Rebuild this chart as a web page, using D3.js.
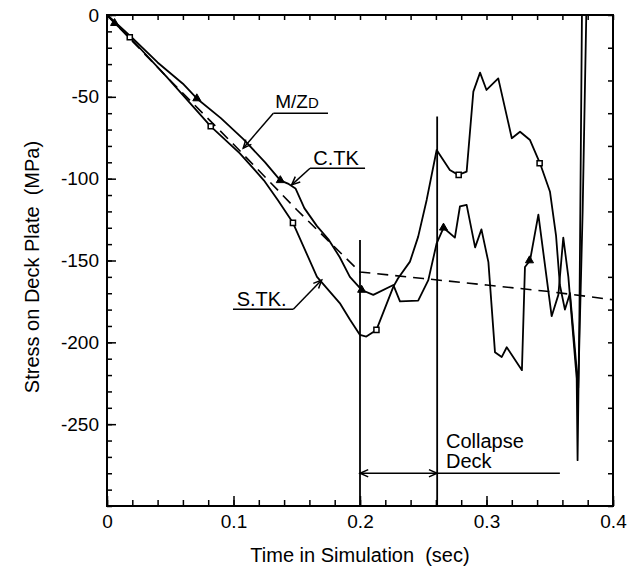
<!DOCTYPE html>
<html>
<head>
<meta charset="utf-8">
<script src="https://cdn.jsdelivr.net/npm/d3@7"></script>
<style>
body { margin: 0; background: #fff; }
svg text { font-family: "Liberation Sans", Arial, Helvetica, sans-serif; fill: #000; }
</style>
</head>
<body>
<svg id="chart" width="629" height="569"></svg>
<script>
// M/Zd estimate (dashed)
var timeMz   = [0, 0.05, 0.1, 0.15, 0.2, 0.25, 0.3, 0.35, 0.4];
var stressMz = [0, -40, -79, -119, -157, -161, -165, -169, -174];

// C.TK (triangle markers)
var timeCtk   = [0, 0.006, 0.02, 0.04, 0.06, 0.071, 0.09, 0.108, 0.125, 0.137, 0.143, 0.149, 0.156, 0.166, 0.175, 0.184, 0.192,
                 0.2013, 0.2105, 0.2264, 0.2316, 0.246, 0.254, 0.2606, 0.266, 0.275, 0.279, 0.2843, 0.291, 0.296, 0.3015,
                 0.3067, 0.312, 0.316, 0.328, 0.3304, 0.3344, 0.341, 0.3515, 0.3568, 0.3607, 0.3647, 0.3713, 0.372, 0.3735, 0.3755];
var stressCtk = [0, -4, -14, -29, -42, -51, -63, -76, -90, -101, -103, -106, -118, -129, -137, -148, -160,
                 -168, -171, -165, -175, -174.5, -162, -139.5, -130, -136, -117, -116, -142, -131, -151,
                 -206, -209, -203, -217, -154, -150, -122, -184, -171, -136, -160, -222, -272, -180, 5];

// S.TK (square markers)
var timeStk   = [0, 0.006, 0.018, 0.047, 0.082, 0.105, 0.124, 0.135, 0.147, 0.166, 0.184, 0.192, 0.2, 0.205, 0.213,
                 0.2264, 0.23, 0.2395, 0.246, 0.2527, 0.2606, 0.271, 0.2777, 0.2843, 0.2896, 0.2949, 0.3, 0.3093, 0.32,
                 0.3265, 0.3344, 0.3423, 0.3502, 0.355, 0.358, 0.362, 0.366, 0.37, 0.3725, 0.376, 0.379];
var stressStk = [0, -5, -13.6, -37.7, -68, -84.5, -101, -113, -127, -160, -176, -186, -195.5, -196.5, -192.4,
                 -166, -161, -150.7, -135.4, -113, -82.5, -94.7, -97.7, -95.7, -46.8, -35.2, -45.8, -38.7, -75.3,
                 -71.3, -76.4, -90.6, -108, -135, -165, -180, -170, -205, -228, -120, 5];

var markTimeCtk   = [0.006, 0.071, 0.137, 0.2013, 0.266, 0.334];
var markStressCtk = [-5, -51, -101, -168, -130, -150];
var markTimeStk   = [0.018, 0.082, 0.147, 0.213, 0.278, 0.342];
var markStressStk = [-13.6, -68, -127, -192.4, -97.7, -90.6];

var xTicks = [0, 0.1, 0.2, 0.3, 0.4];
var yTicks = [0, -50, -100, -150, -200, -250];

var margin = {top: 15, right: 16, bottom: 63, left: 107},
    width = 629 - margin.left - margin.right,
    height = 569 - margin.top - margin.bottom;

var svg = d3.select("#chart");
svg.append("rect").attr("width", 629).attr("height", 569).attr("fill", "#fff");

svg.append("defs").append("clipPath")
    .attr("id", "plot")
  .append("rect")
    .attr("width", width)
    .attr("height", height);

var g = svg.append("g")
    .attr("transform", "translate(" + margin.left + "," + margin.top + ")");

var x = d3.scaleLinear().domain([0, 0.4]).range([0, width]);
var y = d3.scaleLinear().domain([-300, 0]).range([height, 0]);

function pairs(ts, vs) {
  return ts.map(function(t, i) { return [t, vs[i]]; });
}

var line = d3.line()
    .x(function(d) { return x(d[0]); })
    .y(function(d) { return y(d[1]); });

// axes: minor ticks first, then labelled majors
function styleAxis(sel) {
  sel.select(".domain").remove();
  sel.selectAll(".tick line").attr("stroke", "#000").attr("stroke-width", 1.5);
  sel.selectAll(".tick text").style("font-size", "19px").attr("fill", "#000");
}

g.append("g").attr("transform", "translate(0," + height + ")")
    .call(d3.axisBottom(x).tickValues(d3.range(0, 21).map(function(i) { return i * 0.02; }))
      .tickSizeInner(-6).tickSizeOuter(0).tickFormat(""))
    .call(styleAxis);
g.append("g").attr("transform", "translate(0," + height + ")")
    .call(d3.axisBottom(x).tickValues(xTicks).tickSizeInner(-10).tickSizeOuter(0).tickPadding(9)
      .tickFormat(function(d) { return d === 0 ? "0" : d.toFixed(1); }))
    .call(styleAxis);

g.append("g")
    .call(d3.axisTop(x).tickValues(d3.range(0, 21).map(function(i) { return i * 0.02; }))
      .tickSizeInner(-5).tickSizeOuter(0).tickFormat(""))
    .call(styleAxis);

g.append("g")
    .call(d3.axisLeft(y).tickValues(d3.range(0, 31).map(function(i) { return -i * 10; }))
      .tickSizeInner(-5).tickSizeOuter(0).tickFormat(""))
    .call(styleAxis);
g.append("g")
    .call(d3.axisLeft(y).tickValues(yTicks).tickSizeInner(-9).tickSizeOuter(0).tickPadding(8)
      .tickFormat(function(d) { return String(d); }))
    .call(styleAxis);

g.append("g").attr("transform", "translate(" + width + ",0)")
    .call(d3.axisRight(y).tickValues(d3.range(0, 16).map(function(i) { return -i * 20; }))
      .tickSizeInner(-5).tickSizeOuter(0).tickFormat(""))
    .call(styleAxis);

// frame
g.append("rect")
    .attr("width", width)
    .attr("height", height)
    .attr("fill", "none")
    .attr("stroke", "#000")
    .attr("stroke-width", 2);

// curves
var curves = g.append("g").attr("clip-path", "url(#plot)");

curves.append("path")
    .datum(pairs(timeMz, stressMz))
    .attr("d", line)
    .attr("fill", "none")
    .attr("stroke", "#000")
    .attr("stroke-width", 1.6)
    .attr("stroke-dasharray", "11,7");

curves.append("path")
    .datum(pairs(timeCtk, stressCtk))
    .attr("d", line)
    .attr("fill", "none")
    .attr("stroke", "#000")
    .attr("stroke-width", 1.8)
    .attr("stroke-linejoin", "round");

curves.append("path")
    .datum(pairs(timeStk, stressStk))
    .attr("d", line)
    .attr("fill", "none")
    .attr("stroke", "#000")
    .attr("stroke-width", 1.8)
    .attr("stroke-linejoin", "round");

curves.selectAll(".tri")
    .data(pairs(markTimeCtk, markStressCtk))
  .enter().append("path")
    .attr("class", "tri")
    .attr("transform", function(d) { return "translate(" + x(d[0]) + "," + y(d[1]) + ")"; })
    .attr("d", d3.symbol().type(d3.symbolTriangle).size(28))
    .attr("fill", "#000")
    .attr("stroke", "#000")
    .attr("stroke-width", 1);

curves.selectAll(".sq")
    .data(pairs(markTimeStk, markStressStk))
  .enter().append("path")
    .attr("class", "sq")
    .attr("transform", function(d) { return "translate(" + x(d[0]) + "," + y(d[1]) + ")"; })
    .attr("d", d3.symbol().type(d3.symbolSquare).size(26))
    .attr("fill", "#fff")
    .attr("stroke", "#000")
    .attr("stroke-width", 1.5);

// annotations
function seg(a, b, w) {
  g.append("line")
      .attr("x1", x(a[0])).attr("y1", y(a[1]))
      .attr("x2", x(b[0])).attr("y2", y(b[1]))
      .attr("stroke", "#000")
      .attr("stroke-width", w || 1.5);
}

function arrowHead(tip, from, len) {
  var tx = x(tip[0]), ty = y(tip[1]);
  var ang = Math.atan2(ty - y(from[1]), tx - x(from[0]));
  var a1 = ang + Math.PI - 0.42, a2 = ang + Math.PI + 0.42;
  g.append("path")
      .attr("d", "M" + (tx + len * Math.cos(a1)) + "," + (ty + len * Math.sin(a1)) +
                 "L" + tx + "," + ty +
                 "L" + (tx + len * Math.cos(a2)) + "," + (ty + len * Math.sin(a2)))
      .attr("fill", "none")
      .attr("stroke", "#000")
      .attr("stroke-width", 1.5);
}

// M/Zd label
g.append("text")
    .attr("x", x(0.133)).attr("y", y(-57))
    .style("font-size", "19px")
    .text("M/Z")
  .append("tspan")
    .style("font-size", "15px")
    .text("D");
seg([0.1315, -60], [0.1747, -60]);
seg([0.1315, -60], [0.1077, -81.4]);
arrowHead([0.1077, -81.4], [0.1315, -60], 9);

// C.TK label
g.append("text")
    .attr("x", x(0.163)).attr("y", y(-91.4))
    .style("font-size", "20px")
    .text("C.TK");
seg([0.1605, -93.6], [0.204, -93.6]);
seg([0.1605, -93.6], [0.146, -103.8]);
arrowHead([0.146, -103.8], [0.1605, -93.6], 9);

// S.TK label
g.append("text")
    .attr("x", x(0.1025)).attr("y", y(-177.6))
    .style("font-size", "20px")
    .text("S.TK.");
seg([0.0996, -179.8], [0.1473, -179.8]);
seg([0.1473, -179.8], [0.1697, -161.9]);
arrowHead([0.1697, -161.9], [0.1473, -179.8], 9);

// collapse interval
seg([0.2, -137.5], [0.2, -300], 1.8);
seg([0.261, -62], [0.261, -300], 1.8);
seg([0.2, -280], [0.358, -280]);
arrowHead([0.2, -280], [0.23, -280], 9);
arrowHead([0.261, -280], [0.23, -280], 9);

g.append("text")
    .attr("x", x(0.268)).attr("y", y(-264.5))
    .style("font-size", "20px")
    .text("Collapse");
g.append("text")
    .attr("x", x(0.268)).attr("y", y(-276.8))
    .style("font-size", "20px")
    .text("Deck");

// axis titles
svg.append("text")
    .attr("x", margin.left + width / 2)
    .attr("y", 562)
    .attr("text-anchor", "middle")
    .style("font-size", "20px")
    .style("white-space", "pre")
    .text("Time in Simulation  (sec)");

svg.append("text")
    .attr("transform", "translate(39,267) rotate(-90)")
    .attr("text-anchor", "middle")
    .style("font-size", "20px")
    .style("white-space", "pre")
    .text("Stress on Deck Plate  (MPa)");
</script>
</body>
</html>
